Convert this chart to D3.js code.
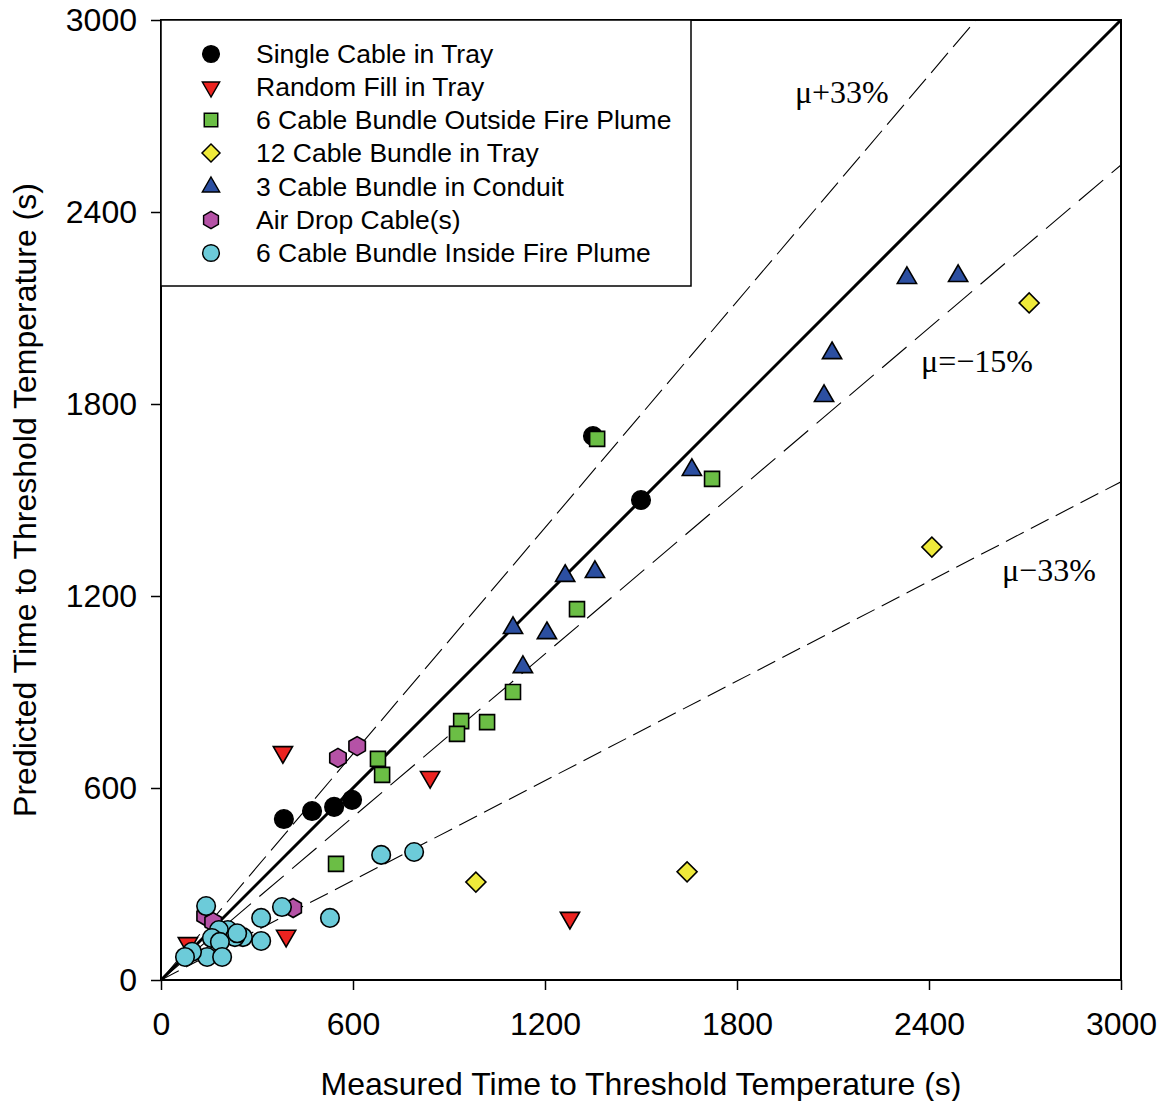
<!DOCTYPE html>
<html><head><meta charset="utf-8">
<script src="https://cdn.jsdelivr.net/npm/d3@7"></script>
<style>body{margin:0;background:#fff}</style>
</head><body>
<svg id="c" width="1163" height="1101"></svg>
<script>
const seriesNames = ["Single Cable in Tray","Random Fill in Tray","6 Cable Bundle Outside Fire Plume","12 Cable Bundle in Tray","3 Cable Bundle in Conduit","Air Drop Cable(s)","6 Cable Bundle Inside Fire Plume"];
const singleCable = [[1350,1700],[1500,1500],[384,503],[472,528],[541,541],[597,563]];
const randomFill = [[381,712],[841,634],[1278,194],[391,138],[84,115]];
const outsidePlume = [[1363,1691],[1722,1566],[1300,1159],[1100,900],[1019,806],[938,809],[925,769],[678,691],[691,641],[547,363]];
const bundle12 = [[2713,2116],[2409,1353],[984,306],[1644,338]];
const conduit3 = [[2491,2200],[2331,2194],[2097,1959],[2072,1825],[1659,1594],[1356,1275],[1263,1263],[1206,1084],[1100,1100],[1131,978]];
const airDrop = [[553,694],[613,731],[413,225],[138,200],[163,181]];
const insidePlume = [[791,400],[688,391],[528,194],[378,228],[313,194],[313,122],[141,231],[209,156],[181,156],[256,134],[231,134],[159,131],[184,119],[144,72],[191,72],[97,88],[75,72],[238,146]];
const xTicks = [0,600,1200,1800,2400,3000];
const yTicks = [0,600,1200,1800,2400,3000];
const refSlopes = [1, 1.178, 0.849, 0.519];
const refLabels = [{t:"\u03bc+33%",x:1981,y:2741},{t:"\u03bc=\u221215%",x:2375,y:1900},{t:"\u03bc\u221233%",x:2628,y:1247}];

const svg = d3.select("#c");
const x = d3.scaleLinear().domain([0,3000]).range([161,1121]);
const y = d3.scaleLinear().domain([0,3000]).range([980,20]);

const hexPath = (r)=>{const p=[];for(let i=0;i<6;i++){const a=Math.PI/3*i-Math.PI/2;p.push([r*Math.cos(a),r*Math.sin(a)]);}return "M"+p.map(d=>d.join(",")).join("L")+"Z";};
const styles = [
  {data:singleCable, fill:"#000", shape:d3.symbol(d3.symbolCircle, 270)(), rot:0},
  {data:randomFill, fill:"#EC2320", shape:d3.symbol(d3.symbolTriangle, 160)(), rot:180},
  {data:outsidePlume, fill:"#6BBE45", shape:d3.symbol(d3.symbolSquare, 225)(), rot:0},
  {data:bundle12, fill:"#EFEA3A", shape:d3.symbol(d3.symbolSquare, 200)(), rot:45},
  {data:conduit3, fill:"#2C4FA1", shape:d3.symbol(d3.symbolTriangle, 160)(), rot:0},
  {data:airDrop, fill:"#B552A6", shape:hexPath(9.5), rot:0},
  {data:insidePlume, fill:"#6CCBD9", shape:d3.symbol(d3.symbolCircle, 270)(), rot:0}
];

// reference lines
svg.append("clipPath").attr("id","pc").append("rect").attr("x",161).attr("y",20).attr("width",960).attr("height",960);
const lineG = svg.append("g").attr("clip-path","url(#pc)");
const dashes = [null,"26,8","32,11","20,8"];
refSlopes.forEach((s,i)=>{
  const xe = Math.min(3000, 3000/s);
  lineG.append("line").attr("x1",x(0)).attr("y1",y(0)).attr("x2",x(xe)).attr("y2",y(s*xe))
    .attr("stroke","#000").attr("stroke-width", i===0?3:1.1)
    .attr("stroke-dasharray", dashes[i]);
});

// frame
svg.append("rect").attr("x",161).attr("y",20).attr("width",960).attr("height",960).attr("fill","none").attr("stroke","#000").attr("stroke-width",2);

// axes
const xa = svg.append("g").attr("transform","translate(0,980)").call(d3.axisBottom(x).tickValues(xTicks).tickSize(10).tickPadding(22).tickFormat(d3.format("d")));
const ya = svg.append("g").attr("transform","translate(161,0)").call(d3.axisLeft(y).tickValues(yTicks).tickSize(10).tickPadding(14).tickFormat(d3.format("d")));
[xa,ya].forEach(a=>{a.select(".domain").remove();a.selectAll("line").attr("stroke-width",1.5);a.selectAll("text").attr("font-family","Liberation Sans, Arial, sans-serif").attr("font-size",32).attr("fill","#000");});

svg.append("text").attr("x",641).attr("y",1095).attr("text-anchor","middle").attr("font-family","Liberation Sans, Arial, sans-serif").attr("font-size",32).text("Measured Time to Threshold Temperature (s)");
svg.append("text").attr("transform","translate(36,500) rotate(-90)").attr("text-anchor","middle").attr("font-family","Liberation Sans, Arial, sans-serif").attr("font-size",32).text("Predicted Time to Threshold Temperature (s)");

// annotations
refLabels.forEach(l=>{
  svg.append("text").attr("x",x(l.x)).attr("y",y(l.y)).attr("text-anchor","start").attr("font-family","Liberation Serif, Times New Roman, serif").attr("font-size",32).text(l.t);
});

// markers
styles.forEach(s=>{
  svg.append("g").selectAll("path").data(s.data).join("path")
    .attr("d", s.shape)
    .attr("transform", d=>`translate(${x(d[0])},${y(d[1])}) rotate(${s.rot})`)
    .attr("fill", s.fill).attr("stroke","#000").attr("stroke-width",1.6);
});

// legend
const lg = svg.append("g");
lg.append("rect").attr("x",161).attr("y",20).attr("width",530).attr("height",266).attr("fill","#fff").attr("stroke","#000").attr("stroke-width",1.5);
const rowsY = [54,87,120,153,187,220,253];
styles.forEach((s,i)=>{
  lg.append("path").attr("d", s.shape).attr("transform",`translate(211,${rowsY[i]}) rotate(${s.rot}) scale(0.9)`)
    .attr("fill", s.fill).attr("stroke","#000").attr("stroke-width",1.6);
  lg.append("text").attr("x",256).attr("y",rowsY[i]+9).attr("font-family","Liberation Sans, Arial, sans-serif").attr("font-size",26.5).text(seriesNames[i]);
});
</script>
</body></html>
